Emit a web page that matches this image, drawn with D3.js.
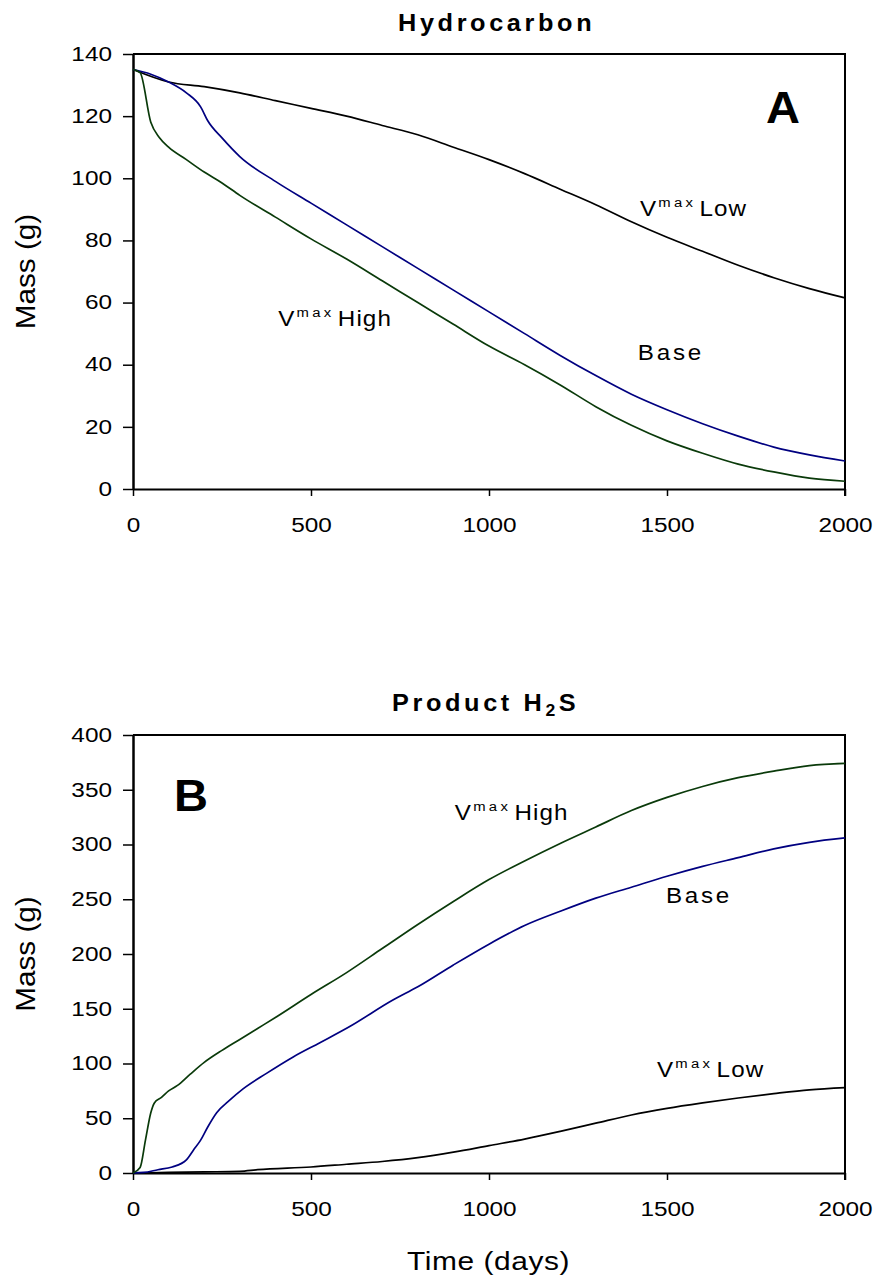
<!DOCTYPE html>
<html>
<head>
<meta charset="utf-8">
<script src="https://cdn.jsdelivr.net/npm/d3@7"></script>
<style>
  body { margin: 0; background: #fff; }
  svg text { font-family: "Liberation Sans", Arial, sans-serif; fill: #000; }
  .axis path, .axis line { stroke: #000; }
</style>
</head>
<body>
<div id="chart"></div>
<script>
// ---- data ----
var xTicks = [0, 500, 1000, 1500, 2000];
var yTicksA = [0, 20, 40, 60, 80, 100, 120, 140];
var yTicksB = [0, 50, 100, 150, 200, 250, 300, 350, 400];

// Panel A: hydrocarbon mass (g)
var hcLowDays  = [0, 100, 200, 300, 400, 500, 600, 700, 800, 900, 1000, 1100, 1200, 1300, 1400, 1500, 1600, 1700, 1800, 1900, 2000];
var hcLow      = [135, 131, 129.5, 127.5, 125, 122.5, 120, 117, 114, 110, 106, 101.5, 96.5, 91.5, 86, 81, 76.5, 72, 68, 64.5, 61.5];
var hcBaseDays = [0, 50, 100, 150, 190, 210, 250, 300, 400, 500, 600, 700, 800, 900, 1000, 1100, 1200, 1300, 1400, 1500, 1600, 1700, 1800, 1900, 2000];
var hcBase     = [135, 133.5, 131, 127.5, 123, 118.5, 113, 107, 99, 92, 85, 78, 71, 64, 57, 50, 43, 36.5, 30.5, 25.5, 21, 17, 13.5, 11, 9];
var hcHighDays = [0, 20, 50, 75, 100, 150, 200, 250, 300, 400, 500, 600, 700, 800, 900, 1000, 1100, 1200, 1300, 1400, 1500, 1600, 1700, 1800, 1900, 2000];
var hcHigh     = [135, 134, 118, 113, 110, 106, 102, 98.5, 94.5, 87.5, 80.5, 74, 67, 60, 53, 46, 40, 33.5, 26.5, 20.5, 15.5, 11.5, 8, 5.5, 3.5, 2.5];

// Panel B: product H2S mass (g)
var hsLowDays  = [0, 100, 200, 300, 350, 500, 600, 700, 800, 900, 1000, 1100, 1200, 1300, 1400, 1500, 1600, 1700, 1800, 1900, 2000];
var hsLow      = [0, 0.5, 1, 1.5, 3, 5.5, 8, 10.5, 14, 19, 25, 31, 38, 45.5, 53, 59, 64, 68.5, 72.5, 76, 78];
var hsBaseDays = [0, 30, 70, 110, 150, 170, 190, 210, 235, 270, 310, 375, 450, 525, 610, 730, 800, 900, 1000, 1100, 1200, 1300, 1400, 1500, 1600, 1700, 1800, 1900, 2000];
var hsBase     = [0, 0.5, 3, 5.5, 12, 21, 30, 42, 55, 66, 77, 91, 106, 119, 134, 158, 170, 190, 209, 226, 239, 251, 261, 271, 280, 288, 296, 302, 306];
var hsHighDays = [0, 20, 35, 50, 60, 80, 100, 125, 160, 200, 250, 300, 350, 400, 500, 600, 700, 800, 900, 1000, 1100, 1200, 1300, 1400, 1500, 1600, 1700, 1800, 1900, 2000];
var hsHigh     = [0, 5, 30, 55, 64, 69, 75, 80, 90, 101, 112, 122, 132, 142, 163, 183, 205, 227, 248, 268, 285, 301, 316, 331, 343, 353, 361, 367, 372, 374];

var colLow = "#000000", colBase = "#000080", colHigh = "#0a3a0a";

var W = 876, H = 1279;
var svg = d3.select("#chart").append("svg")
    .attr("width", W)
    .attr("height", H);

function zip(xs, ys) {
    return xs.map(function (d, i) { return { day: d, mass: ys[i] }; });
}

// text in the original is drawn wide, so stretch it sideways
function wideText(x, y, sx, rot) {
    return svg.append("text")
        .attr("transform", "translate(" + x + "," + y + ")" + (rot ? " rotate(" + rot + ")" : "") + " scale(" + sx + ",1)");
}

// draws one panel
function panel(opt) {
    var x = d3.scaleLinear().domain([0, 2000]).range([133, 845]);
    var y = d3.scaleLinear().domain([0, opt.yMax]).range([opt.bottom, opt.top]);

    // frame top + right
    svg.append("path")
        .attr("d", "M133," + opt.top + "H845V" + (opt.bottom + 7))
        .attr("fill", "none")
        .attr("stroke", "#000")
        .attr("stroke-width", 2);

    var yAxis = svg.append("g")
        .attr("class", "axis")
        .attr("transform", "translate(133,0)")
        .call(d3.axisLeft(y).tickValues(opt.yTicks).tickSize(10).tickSizeOuter(0));
    yAxis.select(".domain").attr("stroke-width", 2.5);
    yAxis.selectAll(".tick line").attr("stroke-width", 1.5);
    yAxis.selectAll("text")
        .attr("x", null)
        .attr("transform", "translate(-21,0) scale(1.25,1)")
        .style("font-size", "19.5px");

    var xAxis = svg.append("g")
        .attr("class", "axis")
        .attr("transform", "translate(0," + opt.bottom + ")")
        .call(d3.axisBottom(x).tickValues(xTicks).tickSize(7).tickSizeOuter(0).tickFormat(d3.format("d")));
    xAxis.select(".domain").attr("stroke-width", 2);
    xAxis.selectAll(".tick line").attr("stroke-width", 1.5);
    xAxis.selectAll("text")
        .attr("y", 43).attr("dy", null)
        .attr("transform", "scale(1.25,1)")
        .style("font-size", "19.5px");

    var line = d3.line()
        .curve(d3.curveMonotoneX)
        .x(function (d) { return x(d.day); })
        .y(function (d) { return y(d.mass); });

    opt.series.forEach(function (s) {
        svg.append("path")
            .datum(s.data)
            .attr("d", line)
            .attr("fill", "none")
            .attr("stroke", s.color)
            .attr("stroke-width", 1.7);
    });

    // series labels
    opt.labels.forEach(function (l) {
        var t = wideText(x(l.day), y(l.mass), 1.1)
            .style("font-size", "22px");
        if (l.vmax) {
            t.append("tspan").text("V");
            t.append("tspan").text("max")
                .attr("dy", -9)
                .attr("dx", 2)
                .style("font-size", "13.5px")
                .style("letter-spacing", "3px");
            t.append("tspan").text(l.text).attr("dy", 9).attr("dx", 3)
                .style("letter-spacing", "1px");
        } else {
            t.text(l.text).style("letter-spacing", "2.5px");
        }
    });

    // big panel letter
    wideText(opt.letterX, opt.letterY, 1.07)
        .style("font-size", "44px")
        .style("font-weight", "bold")
        .text(opt.letter);

    // y label
    wideText(35, (opt.top + opt.bottom) / 2, 1.1, -90)
        .attr("text-anchor", "middle")
        .style("font-size", "27px")
        .text("Mass (g)");

    return { x: x, y: y };
}

panel({
    top: 54, bottom: 489, yMax: 140, yTicks: yTicksA,
    series: [
        { data: zip(hcLowDays, hcLow), color: colLow },
        { data: zip(hcBaseDays, hcBase), color: colBase },
        { data: zip(hcHighDays, hcHigh), color: colHigh }
    ],
    labels: [
        { day: 1424, mass: 88, text: "Low", vmax: true },
        { day: 1418, mass: 41.5, text: "Base" },
        { day: 408, mass: 52.5, text: "High", vmax: true }
    ],
    letter: "A", letterX: 766, letterY: 123
});

panel({
    top: 735, bottom: 1173, yMax: 400, yTicks: yTicksB,
    series: [
        { data: zip(hsLowDays, hsLow), color: colLow },
        { data: zip(hsBaseDays, hsBase), color: colBase },
        { data: zip(hsHighDays, hsHigh), color: colHigh }
    ],
    labels: [
        { day: 904, mass: 322, text: "High", vmax: true },
        { day: 1497, mass: 246.5, text: "Base" },
        { day: 1472, mass: 87.7, text: "Low", vmax: true }
    ],
    letter: "B", letterX: 174, letterY: 811
});

// titles
wideText(398, 31, 1.1)
    .style("font-size", "23px")
    .style("font-weight", "bold")
    .style("letter-spacing", "3.3px")
    .text("Hydrocarbon");

var t2 = wideText(392, 711, 1.1)
    .style("font-size", "23px")
    .style("font-weight", "bold")
    .style("letter-spacing", "3.3px");
t2.append("tspan").text("Product H");
t2.append("tspan").text("2").attr("dy", 5).style("font-size", "16px");
t2.append("tspan").text("S").attr("dy", -5);

wideText(407, 1270, 1.15)
    .style("font-size", "26px")
    .style("letter-spacing", "0.5px")
    .text("Time (days)");
</script>
</body>
</html>
